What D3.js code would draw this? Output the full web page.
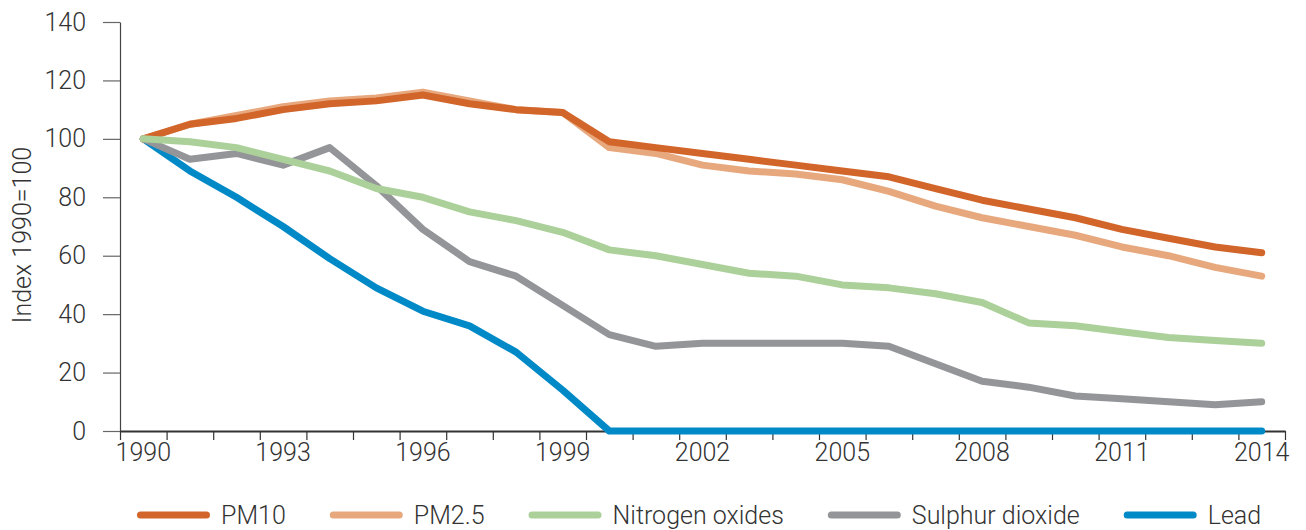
<!DOCTYPE html>
<html>
  <head>
    <title>Air pollutant index</title>
    <script src="https://d3js.org/d3.v7.min.js"></script>
    <style>
      body { margin: 0; background: #fff; }
      text { font-family: Roboto, "Liberation Sans", sans-serif; font-weight: 300; fill: #333; }
    </style>
  </head>
  <body>
  </body>
</html>

<script>
  // data (index, 1990 = 100)
  var years = d3.range(1990, 2015);
  var yTicks = [0, 20, 40, 60, 80, 100, 120, 140];
  var xLabels = [1990, 1993, 1996, 1999, 2002, 2005, 2008, 2011, 2014];

  var pm10 = [100, 105, 107, 110, 112, 113, 115, 112, 110, 109, 99, 97, 95, 93, 91, 89, 87, 83, 79, 76, 73, 69, 66, 63, 61];
  var pm25 = [100, 105, 108, 111, 113, 114, 116, 113, 110, 109, 97, 95, 91, 89, 88, 86, 82, 77, 73, 70, 67, 63, 60, 56, 53];
  var nox  = [100, 99, 97, 93, 89, 83, 80, 75, 72, 68, 62, 60, 57, 54, 53, 50, 49, 47, 44, 37, 36, 34, 32, 31, 30];
  var so2  = [100, 93, 95, 91, 97, 84, 69, 58, 53, 43, 33, 29, 30, 30, 30, 30, 29, 23, 17, 15, 12, 11, 10, 9, 10];
  var lead = [100, 89, 80, 70, 59, 49, 41, 36, 27, 14, 0, 0, 0, 0, 0, 0, 0, 0, 0, 0, 0, 0, 0, 0, 0];

  var legendNames = ["PM10", "PM2.5", "Nitrogen oxides", "Sulphur dioxide", "Lead"];
  var colors = ["#d2652a", "#e8a87d", "#acd09a", "#939598", "#0089c7"];
  var seriesValues = [pm10, pm25, nox, so2, lead];

  // drawing order: lead at the bottom, nitrogen oxides on top
  var drawOrder = [4, 3, 1, 0, 2];

  var fontSize = "25px";

  var svg = d3.select("body").append("svg")
              .attr("width", 1306)
              .attr("height", 530);

  var x = d3.scaleBand().domain(years).range([120, 1285]).padding(0);
  var xEdge = d3.scaleLinear().domain([1990, 2015]).range([120, 1285]);
  var y = d3.scaleLinear().domain([0, 140]).range([431, 22]);

  // y axis
  var yAxis = svg.append("g")
                 .attr("transform", "translate(120,0)")
                 .call(d3.axisLeft(y).tickValues(yTicks).tickSize(17).tickSizeOuter(0).tickPadding(17));
  yAxis.select(".domain").attr("stroke", "#444").attr("stroke-width", 1.2);
  yAxis.selectAll(".tick line").attr("stroke", "#666").attr("stroke-width", 1.2);
  yAxis.selectAll("text").style("font-size", fontSize).attr("fill", "#333");

  // x axis: tick marks at year boundaries
  var xTickAxis = svg.append("g")
                     .attr("transform", "translate(0,431)")
                     .call(d3.axisBottom(xEdge).tickValues(d3.range(1990, 2016)).tickFormat("").tickSize(9).tickSizeOuter(0));
  xTickAxis.select(".domain").attr("stroke", "#333").attr("stroke-width", 2);
  xTickAxis.selectAll(".tick line").attr("stroke", "#333").attr("stroke-width", 1.2);

  // x axis labels at year centres
  var xLabelAxis = svg.append("g")
                      .attr("transform", "translate(0,431)")
                      .call(d3.axisBottom(x).tickValues(xLabels).tickSize(0).tickPadding(12));
  xLabelAxis.select(".domain").remove();
  xLabelAxis.selectAll("text").style("font-size", fontSize).attr("fill", "#333");

  // y axis title
  svg.append("text")
     .attr("transform", "translate(31,235) rotate(-90)")
     .attr("text-anchor", "middle")
     .style("font-size", fontSize)
     .text("Index 1990=100");

  // lines
  var line = d3.line()
               .x(function (d, i) { return x(years[i]) + x.bandwidth() / 2; })
               .y(function (d) { return y(d); });

  svg.selectAll("path.series")
     .data(drawOrder)
     .enter()
     .append("path")
     .attr("class", "series")
     .attr("d", function (k) { return line(seriesValues[k]); })
     .attr("fill", "none")
     .attr("stroke", function (k) { return colors[k]; })
     .attr("stroke-width", 7)
     .attr("stroke-linejoin", "round")
     .attr("stroke-linecap", "round");

  // legend
  var legend = svg.append("g").attr("transform", "translate(0,515)");
  var lx = 137;
  legendNames.forEach(function (name, i) {
    var g = legend.append("g").attr("transform", "translate(" + lx + ",0)");
    g.append("line")
     .attr("x1", 3.5).attr("x2", 69.5)
     .attr("y1", 0).attr("y2", 0)
     .attr("stroke", colors[i])
     .attr("stroke-width", 7)
     .attr("stroke-linecap", "round");
    var t = g.append("text")
             .attr("x", 84)
             .attr("y", 9)
             .style("font-size", fontSize)
             .text(name);
    lx += 84 + t.node().getComputedTextLength() + 44;
  });
</script>
